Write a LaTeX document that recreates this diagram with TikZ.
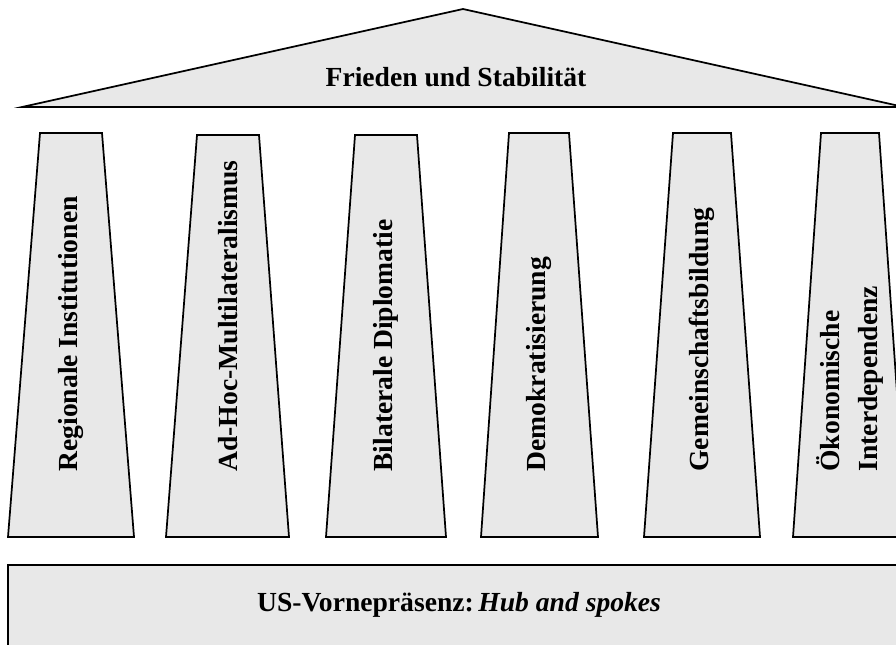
\documentclass[tikz,border=0pt]{standalone}
\usepackage{fontspec}
\setmainfont{Liberation Serif}
\definecolor{stonegray}{RGB}{232,232,232}
\tikzset{every picture/.style={line width=0.75pt}}
\tikzset{
  stone/.style={draw=black, fill=stonegray, line width=1.3pt, line join=miter},
  pillarlabel/.style={rotate=90, anchor=west, inner sep=0pt, align=left, font=\fontsize{20.7pt}{28.5pt}\selectfont\bfseries},
  bandlabel/.style={anchor=base, inner sep=0pt, font=\fontsize{20.7pt}{25pt}\selectfont\bfseries}
}

\begin{document}
\begin{tikzpicture}[x=0.75pt,y=0.75pt,yscale=-1,xscale=1]
\useasboundingbox (0,0) rectangle (896,644);
\clip (0,0) rectangle (896,644);

% Roof
\draw [stone] (22,107) -- (463,9) -- (904,107) -- cycle ;
\node [bandlabel] (roof) at (456,86) {Frieden und Stabilität};

% Pillar
\draw [stone] (40,133) -- (102,133) -- (134,537) -- (8,537) -- cycle ;
\node [pillarlabel] (regional) at (71,472) {Regionale Institutionen};
% Pillar
\draw [stone] (197,135) -- (259,135) -- (289,537) -- (166,537) -- cycle ;
\node [pillarlabel] (adhoc) at (228,472) {Ad-Hoc-Multilateralismus};
% Pillar
\draw [stone] (355,135) -- (417,135) -- (446,537) -- (326,537) -- cycle ;
\node [pillarlabel] (bilateral) at (386,472) {Bilaterale Diplomatie};
% Pillar
\draw [stone] (509,133) -- (569,133) -- (598,537) -- (481,537) -- cycle ;
\node [pillarlabel] (demokratie) at (539,472) {Demokratisierung};
% Pillar
\draw [stone] (673,133) -- (731,133) -- (760,537) -- (644,537) -- cycle ;
\node [pillarlabel] (gemeinschaft) at (702,472) {Gemeinschaftsbildung};
% Pillar
\draw [stone] (821,133) -- (879,133) -- (907,537) -- (793,537) -- cycle ;
\node [pillarlabel] (oekonomie) at (850,472) {Ökonomische\\Interdependenz};

% Foundation
\draw [stone] (8,565) rectangle (906,660) ;
\node [bandlabel] (praesenz) at (459,611) {US-Vornepräsenz:\,\textit{Hub and spokes}};

\end{tikzpicture}
\end{document}
